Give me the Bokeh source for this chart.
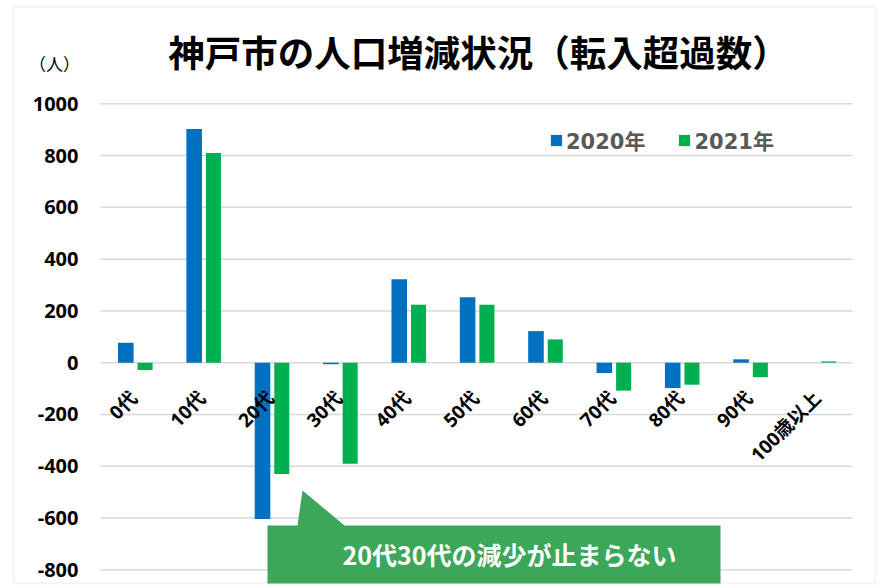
import math
from bokeh.plotting import figure
from bokeh.models import (Range1d, Label, Legend, LegendItem, PolyAnnotation, ColumnDataSource)
from bokeh.core.properties import value
from bokeh.embed import file_html
from bokeh.resources import INLINE

categories = ["0代", "10代", "20代", "30代", "40代", "50代", "60代", "70代", "80代", "90代", "100歳以上"]
y2020 = [77, 903, -604, -6, 322, 253, 122, -40, -98, 13, 0]
y2021 = [-28, 810, -430, -390, 224, 224, 90, -108, -85, -56, 5]
y_ticks = [-800, -600, -400, -200, 0, 200, 400, 600, 800, 1000]
y_tick_labels = [str(v) for v in y_ticks]
series_names = ["2020年", "2021年"]
title_text = "神戸市の人口増減状況（転入超過数）"
unit_text = "（人）"
callout_text = "20代30代の減少が止まらない"

CJK = "Noto Sans CJK JP"
MIX = "Noto Sans, Noto Sans CJK JP"
LEG = "DejaVu Sans, Noto Sans CJK JP"
BLUE = "#0070C0"
GREEN = "#00B050"

W, H = 882, 588
n = len(categories)
band = 752 / n  # pixel width of one category band
x_range = Range1d(-100 / band, n + 30 / band)
y_range = Range1d(-872.2, 1399.0)

p = figure(width=W, height=H, x_range=x_range, y_range=y_range,
           output_backend="svg", toolbar_location=None, title=None,
           x_axis_location=None, y_axis_location=None,
           min_border=0)
p.outline_line_color = None
p.grid.visible = False
p.background_fill_color = "white"
p.border_fill_color = "white"

idx = list(range(n))
centers = [i + 0.5 for i in idx]
src = ColumnDataSource(dict(
    cat=categories, center=centers,
    x2020=[c - 0.13 for c in centers], x2021=[c + 0.152 for c in centers],
    y2020=y2020, y2021=y2021))

# horizontal gridlines spanning the category area
grid_src = ColumnDataSource(dict(y=y_ticks, label=y_tick_labels,
                                 x0=[0] * len(y_ticks), x1=[n] * len(y_ticks)))
p.segment(x0="x0", x1="x1", y0="y", y1="y", source=grid_src,
          line_color="#D9D9D9", line_width=1.5)

# y tick labels
p.text(x=-22 / band, y="y", text="label", source=grid_src,
       text_align="right", text_baseline="middle",
       text_font=value("Noto Sans"), text_font_size="20px", text_font_style="bold",
       text_color="#000000")

r1 = p.vbar(x="x2020", top="y2020", width=0.228, source=src,
            fill_color=BLUE, line_color=None)
r2 = p.vbar(x="x2021", top="y2021", width=0.22, source=src,
            fill_color=GREEN, line_color=None)

# category labels next to the zero line
p.text(x="center", y=0, text="cat", source=src, angle=math.pi / 4,
       text_align="right", text_baseline="middle", x_offset=-1, y_offset=32,
       text_font=value(MIX), text_font_size="19px", text_font_style="bold",
       text_color="#000000")

legend = Legend(items=[LegendItem(label=series_names[0], renderers=[r1]),
                       LegendItem(label=series_names[1], renderers=[r2])],
                orientation="horizontal", location=(549, 433),
                glyph_width=14, glyph_height=14, label_standoff=3, spacing=32,
                padding=0, margin=0, border_line_color=None,
                background_fill_alpha=0,
                label_text_font=LEG, label_text_font_size="21px",
                label_text_font_style="bold", label_text_color="#595959")
p.add_layout(legend)

# outer chart border
p.add_layout(PolyAnnotation(xs=[13, 875, 875, 13], ys=[582, 582, 5, 5],
                            xs_units="screen", ys_units="screen",
                            fill_alpha=0, line_color="#D9D9D9", line_width=2))

# title and unit
p.add_layout(Label(x=478, y=537, x_units="screen", y_units="screen", text=title_text,
                   text_align="center", text_baseline="middle",
                   text_font=CJK, text_font_size="36.5px", text_font_style="bold",
                   text_color="#000000"))
p.add_layout(Label(x=54, y=525, x_units="screen", y_units="screen", text=unit_text,
                   text_align="center", text_baseline="middle",
                   text_font=CJK, text_font_size="17px", text_color="#000000"))

# callout
p.add_layout(PolyAnnotation(xs=[267, 297, 302, 344, 720, 720, 267],
                            ys=[63, 63, 98, 63, 63, 5, 5],
                            xs_units="screen", ys_units="screen",
                            fill_color="#3DA759", fill_alpha=1, line_color=None))
p.add_layout(Label(x=509, y=35, x_units="screen", y_units="screen", text=callout_text,
                   text_align="center", text_baseline="middle",
                   text_font=CJK, text_font_size="25px", text_font_style="bold",
                   text_color="#FFFFFF"))

open("out.html", "w").write(file_html(p, INLINE))
